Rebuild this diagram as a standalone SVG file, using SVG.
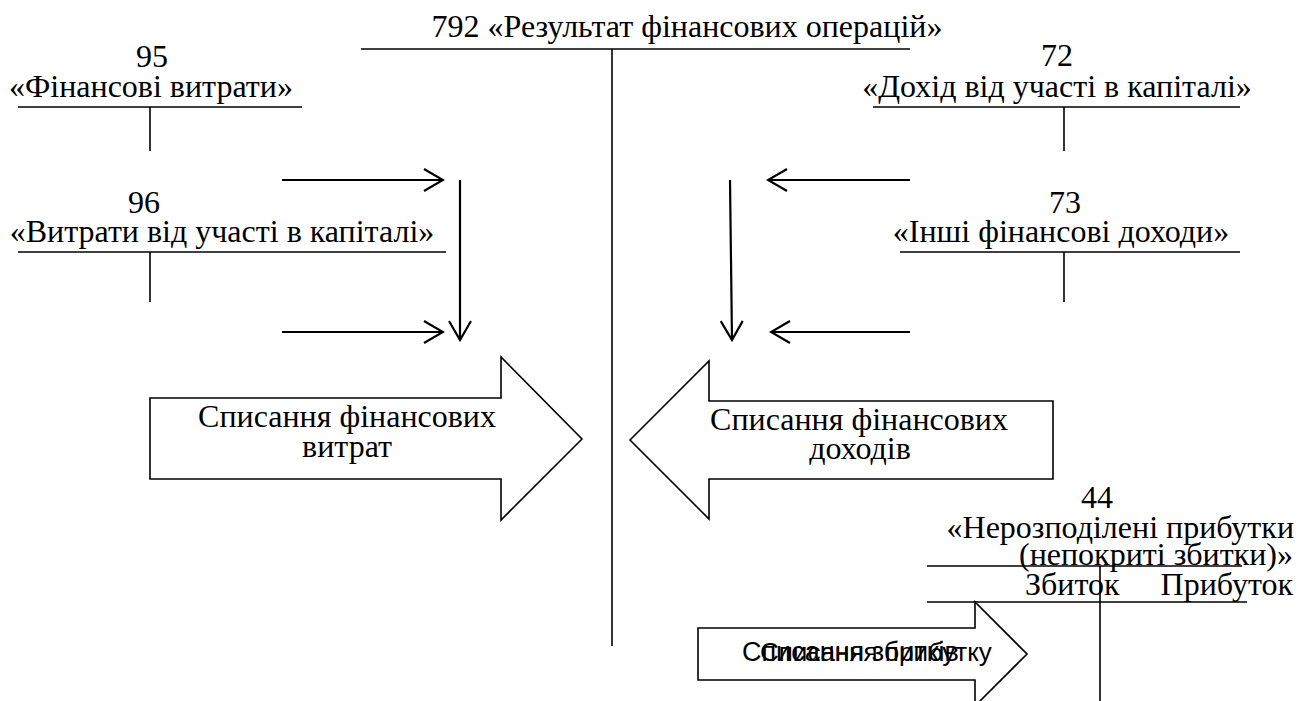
<svg xmlns="http://www.w3.org/2000/svg" width="1315" height="701" viewBox="0 0 1315 701">
<defs>
<style>
.t{font-family:"Liberation Serif","Times New Roman","DejaVu Serif",serif;font-size:32px;fill:#000}
.s{font-family:"Liberation Sans",Arial,"DejaVu Sans",sans-serif;fill:#000}
.ln{stroke:#000;stroke-width:1.6;fill:none}
.ar{stroke:#000;stroke-width:2.2;fill:none}
.big{stroke:#000;stroke-width:1.6;fill:#fff}
</style>
<marker id="chev" viewBox="0 0 22 24" refX="20" refY="12" markerWidth="22" markerHeight="24" markerUnits="userSpaceOnUse" orient="auto">
<path d="M1,1 L20,12 L1,23" fill="none" stroke="#000" stroke-width="2.2"/>
</marker>
</defs>
<rect width="1315" height="701" fill="#fff"/>
<g id="acc792">
<text class="t" x="687" y="37" text-anchor="middle">792 «Результат фінансових операцій»</text>
<line class="ln" x1="361" y1="49" x2="910" y2="49"/>
<line class="ln" x1="612" y1="49" x2="612" y2="646"/>
</g>
<g id="acc95">
<text class="t" x="152" y="67" text-anchor="middle">95</text>
<text class="t" x="151" y="97" text-anchor="middle">«Фінансові витрати»</text>
<line class="ln" x1="18" y1="107" x2="302" y2="107"/>
<line class="ln" x1="150" y1="107" x2="150" y2="151"/>
</g>
<g id="acc96">
<text class="t" x="144" y="213" text-anchor="middle">96</text>
<text class="t" x="222" y="242" text-anchor="middle">«Витрати від участі в капіталі»</text>
<line class="ln" x1="18" y1="252" x2="446" y2="252"/>
<line class="ln" x1="150" y1="252" x2="150" y2="302"/>
</g>
<g id="acc72">
<text class="t" x="1057" y="66" text-anchor="middle">72</text>
<text class="t" x="1057" y="97" text-anchor="middle">«Дохід від участі в капіталі»</text>
<line class="ln" x1="873" y1="107" x2="1240" y2="107"/>
<line class="ln" x1="1064" y1="107" x2="1064" y2="151"/>
</g>
<g id="acc73">
<text class="t" x="1065" y="213" text-anchor="middle">73</text>
<text class="t" x="1061" y="242" text-anchor="middle">«Інші фінансові доходи»</text>
<line class="ln" x1="900" y1="252" x2="1240" y2="252"/>
<line class="ln" x1="1064" y1="252" x2="1064" y2="302"/>
</g>
<g id="acc44">
<text class="t" x="1097" y="508" text-anchor="middle">44</text>
<text class="t" x="1294" y="538" text-anchor="end">«Нерозподілені прибутки</text>
<text class="t" x="1293" y="565" text-anchor="end">(непокриті збитки)»</text>
<text class="t" x="1025" y="595">Збиток</text>
<text class="t" x="1293" y="595" text-anchor="end">Прибуток</text>
<line class="ln" x1="927" y1="566" x2="1242" y2="566"/>
<line class="ln" x1="927" y1="602" x2="1247" y2="602"/>
<line class="ln" x1="1100" y1="566" x2="1100" y2="701"/>
</g>
<g id="writeoff-expenses">
<polygon class="big" points="150,398 501,398 501,357 582,439 501,520 501,479 150,479"/>
<text class="t" x="347" y="427" text-anchor="middle">Списання фінансових</text>
<text class="t" x="347" y="457" text-anchor="middle">витрат</text>
</g>
<g id="writeoff-income">
<polygon class="big" points="630,440 709,361 709,401 1053,401 1053,479 709,479 709,519"/>
<text class="t" x="859" y="430" text-anchor="middle">Списання фінансових</text>
<text class="t" x="860" y="459" text-anchor="middle">доходів</text>
</g>
<g id="writeoff-result">
<polygon class="big" points="698,628 975,628 975,602 1027,654 975,706 975,680 698,680"/>
<text class="s" x="742" y="661" font-size="27">Списання збитків</text>
<text class="s" x="760" y="661" font-size="26">Списання прибутку</text>
</g>
<g id="connectors">
<line class="ar" x1="282" y1="180" x2="443" y2="180" marker-end="url(#chev)"/>
<line class="ar" x1="282" y1="332" x2="443" y2="332" marker-end="url(#chev)"/>
<line class="ar" x1="460" y1="180" x2="460" y2="340" marker-end="url(#chev)"/>
<line class="ar" x1="910" y1="180" x2="768" y2="180" marker-end="url(#chev)"/>
<line class="ar" x1="910" y1="332" x2="771" y2="332" marker-end="url(#chev)"/>
<line class="ar" x1="730" y1="180" x2="732" y2="340" marker-end="url(#chev)"/>
</g>
</svg>
